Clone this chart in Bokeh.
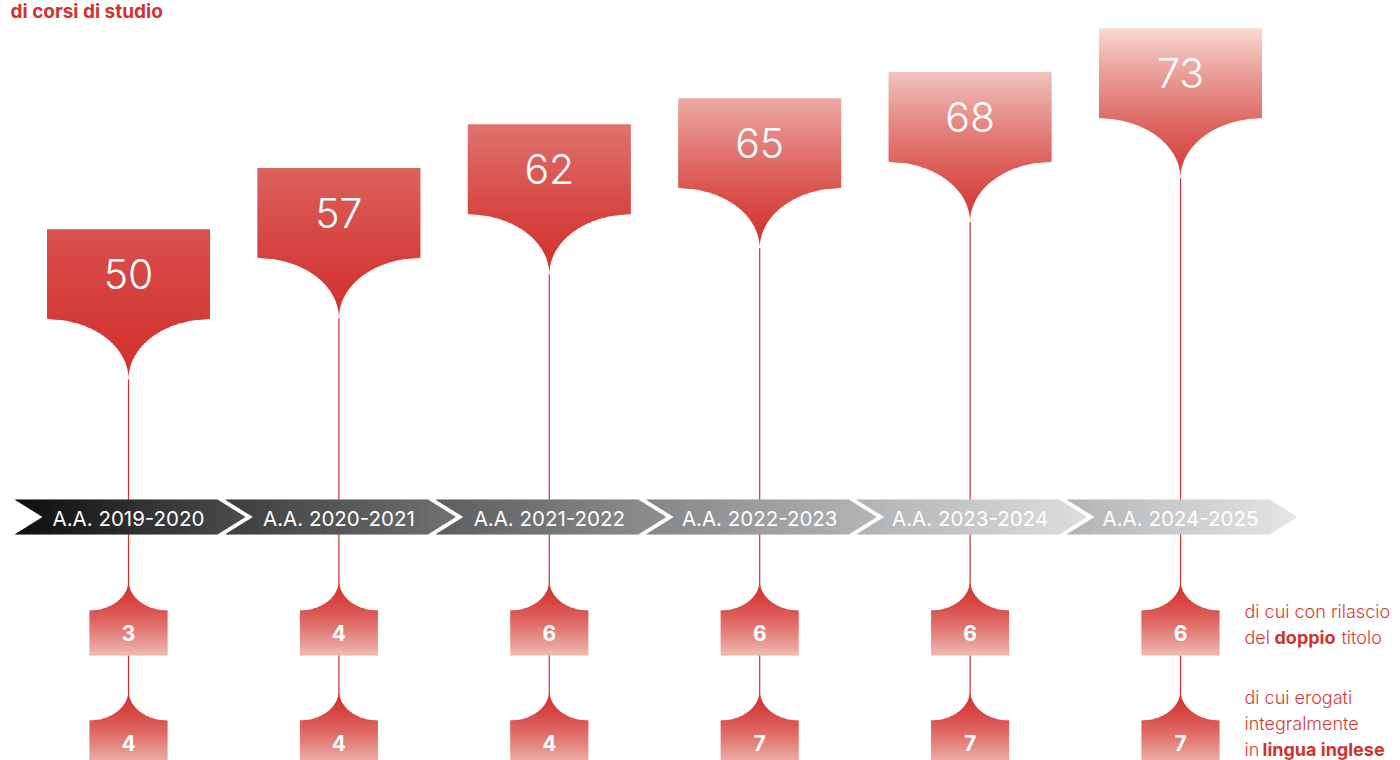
import math
from bokeh.plotting import figure
from bokeh.models import Range1d
from bokeh.core.properties import value
from bokeh.embed import file_html
from bokeh.resources import INLINE

# ---------------- data ----------------
YEARS = ["A.A. 2019-2020", "A.A. 2020-2021", "A.A. 2021-2022",
         "A.A. 2022-2023", "A.A. 2023-2024", "A.A. 2024-2025"]
TOTAL_COURSES = [50, 57, 62, 65, 68, 73]
DOUBLE_DEGREE = [3, 4, 6, 6, 6, 6]
ENGLISH_TAUGHT = [4, 4, 4, 7, 7, 7]
TITLE_TAIL = "di corsi di studio"
NOTE_DOUBLE = [[("di cui con rilascio", "normal")],
               [("del", "normal"), ("doppio", "bold"), ("titolo", "normal")]]
NOTE_ENGLISH = [[("di cui erogati", "normal")],
                [("integralmente", "normal")],
                [("in", "normal"), ("lingua inglese", "bold")]]

# ---------------- layout (pixels) ----------------
W, H = 1400, 760
COL0_PX, COL_STEP_PX = 128.0, 210.4          # x: column index -> pixels
VAL_Y0_PX, VAL_PX = 665.3, 8.733              # y: value -> pixels (scale)


def fx(px):
    return (px - COL0_PX) / COL_STEP_PX


def fy(py):
    return (VAL_Y0_PX - py) / VAL_PX


def dxu(px):
    return px / COL_STEP_PX


def dyu(px):
    return px / VAL_PX


RED = (210, 50, 47)
PALE = (250, 232, 224)
TEXT_RED = "#d63a36"
LIGHT_FONT = value("Inter Light, Inter")


def tint(L):
    L = max(0.0, min(1.0, L))
    return "#%02x%02x%02x" % tuple(int(round(r + L * (p - r))) for r, p in zip(RED, PALE))


def grey(g):
    g = int(round(g))
    return "#%02x%02x%02x" % (min(255, g), min(255, g + 1), min(255, g + 3))


p = figure(width=W, height=H, x_range=Range1d(fx(0), fx(W)), y_range=Range1d(fy(H), fy(0)),
           output_backend="svg", toolbar_location=None, min_border=0,
           x_axis_location=None, y_axis_location=None,
           background_fill_color="white", border_fill_color="white")
p.xgrid.visible = False
p.ygrid.visible = False
p.outline_line_color = None

cols = list(range(len(YEARS)))

# ---------------- connector lines ----------------
BIG_HW, BIG_RECT, BIG_TAIL = 81.5, 90.0, 60.0
tips = [v - dyu(BIG_RECT + BIG_TAIL) for v in TOTAL_COURSES]
p.segment(x0=cols, y0=tips, x1=cols, y1=[fy(700)] * len(cols), line_color="#d2322f", line_width=1.2)

# ---------------- big callouts ----------------
TOP_TINT = [0.17, 0.27, 0.36, 0.66, 0.80, 0.92]
BOT_TINT = [0.0, 0.0, 0.0, 0.0, 0.04, 0.08]


def hw_big(t):
    if t <= BIG_RECT:
        return BIG_HW
    u = BIG_RECT + BIG_TAIL - t
    d = max(0.0, min(1.0, u / BIG_TAIL))
    return BIG_HW * (1 - math.sqrt(max(0.0, 1 - d * d)))


SM_HW, SM_TAIL, SM_RECT = 39.0, 30.0, 45.0


def hw_small(t):
    if t >= SM_TAIL:
        return SM_HW
    d = t / SM_TAIL
    return SM_HW * (1 - math.sqrt(max(0.0, 1 - d * d)))


def band(cx, ytop, hwf, t1, t2, nsamp=6):
    ts = [t1 + (t2 - t1) * k / nsamp for k in range(nsamp + 1)]
    xs = [cx - dxu(hwf(t)) for t in ts] + [cx + dxu(hwf(t)) for t in reversed(ts)]
    ys = [ytop - dyu(t) for t in ts] + [ytop - dyu(t) for t in reversed(ts)]
    return xs, ys


bx, by, bc = [], [], []
total = BIG_RECT + BIG_TAIL
step = 2.5
for i, v in enumerate(TOTAL_COURSES):
    t = 0.0
    while t < total - 1e-9:
        t2 = min(t + step, total)
        t2e = min(t2 + 0.8, total)
        xs, ys = band(i, v, hw_big, t, t2e)
        s = (t + t2) / 2 / total
        bx.append(xs); by.append(ys)
        bc.append(tint(TOP_TINT[i] * (1 - s) ** 1.3 + BOT_TINT[i] * s))
        t = t2
p.patches(bx, by, fill_color=bc, line_color=None)

p.text(x=cols, y=[v - dyu(BIG_RECT / 2) for v in TOTAL_COURSES], text=[str(v) for v in TOTAL_COURSES],
       text_font=LIGHT_FONT, text_font_size="41px", text_color="white",
       text_align="center", text_baseline="middle")

# ---------------- small callouts ----------------
sx, sy, sc = [], [], []
sm_total = SM_TAIL + SM_RECT
for tip_px in (580, 690):
    for i in cols:
        t = 0.0
        while t < sm_total - 1e-9:
            t2 = min(t + 2.0, sm_total)
            t2e = min(t2 + 0.7, sm_total)
            xs, ys = band(i, fy(tip_px), hw_small, t, t2e)
            s = (t + t2) / 2 / sm_total
            sx.append(xs); sy.append(ys)
            sc.append(tint(0.75 * s ** 1.5))
            t = t2
p.patches(sx, sy, fill_color=sc, line_color=None)

p.text(x=cols, y=[fy(632)] * len(cols), text=[str(v) for v in DOUBLE_DEGREE],
       text_font=value("Inter"), text_font_size="21px", text_font_style="bold", text_color="white",
       text_align="center", text_baseline="middle")
p.text(x=cols, y=[fy(742)] * len(cols), text=[str(v) for v in ENGLISH_TAUGHT],
       text_font=value("Inter"), text_font_size="21px", text_font_style="bold", text_color="white",
       text_align="center", text_baseline="middle")

# ---------------- timeline chevrons ----------------
SEG_LEFT_PX, SEG_W, SEG_N = 114.0, 203.0, 28.0
BAR_TOP_PX, BAR_H = 499.0, 35.0
SEG_LEFT_G = [12, 60, 92, 132, 176, 178]
SEG_RIGHT_G = [76, 112, 142, 180, 221, 229]


def strip_polys(a1, a2, am):
    half = BAR_H / 2
    if am < SEG_N:
        k1, k2 = half * a1 / SEG_N, half * a2 / SEG_N
        return [[(a1, 0), (a2, 0), (a2, k2), (a1, k1)],
                [(a1, BAR_H - k1), (a2, BAR_H - k2), (a2, BAR_H), (a1, BAR_H)]]
    if am < SEG_W:
        return [[(a1, 0), (a2, 0), (a2, BAR_H), (a1, BAR_H)]]
    b1, b2 = a1 - SEG_W, a2 - SEG_W
    k1, k2 = half * b1 / SEG_N, half * b2 / SEG_N
    return [[(a1, k1), (a2, k2), (a2, BAR_H - k2), (a1, BAR_H - k1)]]


edges = []
for lo, hi in ((0.0, SEG_N), (SEG_N, SEG_W), (SEG_W, SEG_W + SEG_N)):
    n = max(1, int(round((hi - lo) / 3.0)))
    for k in range(n):
        edges.append((lo + (hi - lo) * k / n, lo + (hi - lo) * (k + 1) / n))

tx, ty, tc = [], [], []
full = SEG_W + SEG_N
for i in cols:
    x0 = i - dxu(SEG_LEFT_PX)
    for a1, a2 in edges:
        am = (a1 + a2) / 2
        a2e = min(a2 + 0.7, full)
        g = SEG_LEFT_G[i] + (SEG_RIGHT_G[i] - SEG_LEFT_G[i]) * am / full
        for poly in strip_polys(a1, a2e, am):
            tx.append([x0 + dxu(a) for a, _ in poly])
            ty.append([fy(BAR_TOP_PX + o) for _, o in poly])
            tc.append(grey(g))
p.patches(tx, ty, fill_color=tc, line_color=None)

p.text(x=cols, y=[fy(518)] * len(cols), text=YEARS,
       text_font=value("Inter"), text_font_size="20.5px", text_color="white",
       text_align="center", text_baseline="middle")

# ---------------- notes on the right ----------------
note_rows = [
    (NOTE_DOUBLE[0], 611, [1244]),
    (NOTE_DOUBLE[1], 637, [1244, 1274, 1341]),
    (NOTE_ENGLISH[0], 697, [1244]),
    (NOTE_ENGLISH[1], 723, [1244]),
    (NOTE_ENGLISH[2], 749, [1244, 1262]),
]
for parts, ypx, xs in note_rows:
    for (txt, style), xpx in zip(parts, xs):
        p.text(x=[fx(xpx)], y=[fy(ypx)], text=[txt],
               text_font=LIGHT_FONT if style == "normal" else value("Inter"),
               text_font_size="18px", text_font_style=style,
               text_color=TEXT_RED if style == "normal" else "#d2322f",
               text_align="left", text_baseline="middle")

# ---------------- title fragment ----------------
p.text(x=[fx(10)], y=[fy(11)], text=[TITLE_TAIL], text_font=value("Inter"),
       text_font_size="19px", text_font_style="bold", text_color="#d2322f",
       text_align="left", text_baseline="middle")

open("out.html", "w").write(file_html(p, INLINE))
